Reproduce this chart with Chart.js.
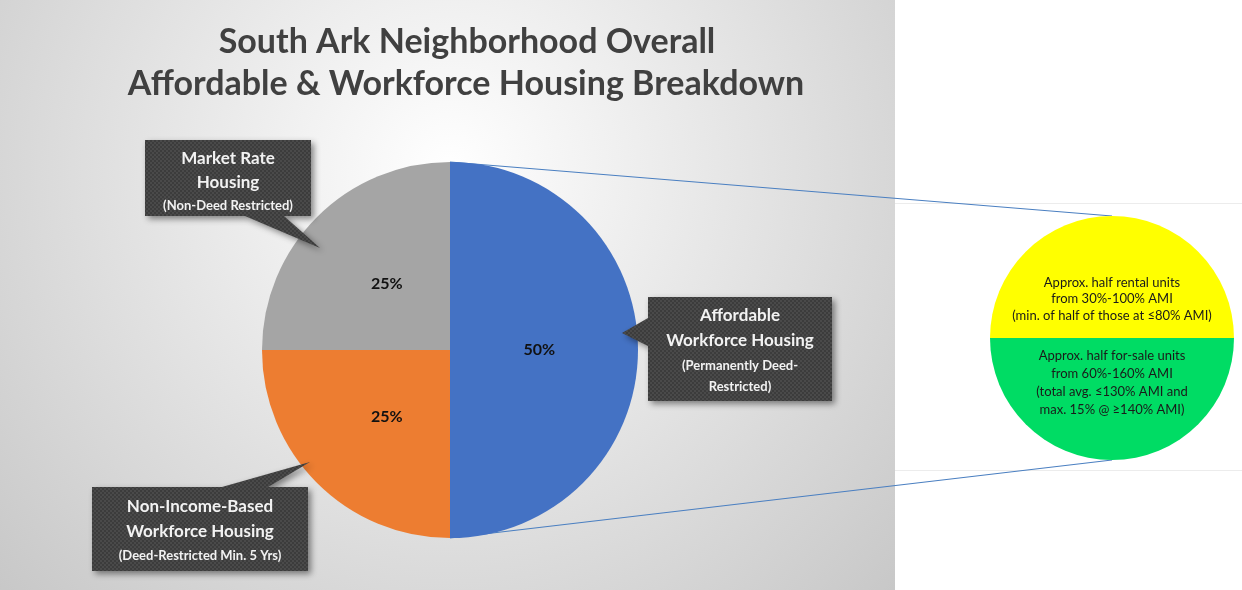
<!DOCTYPE html>
<html>
<head>
<meta charset="utf-8">
<script src="https://cdn.jsdelivr.net/npm/chart.js@4/dist/chart.umd.min.js"></script>
<style>
  html, body { margin: 0; padding: 0; background: #fff; }
  #wrap { position: relative; width: 1242px; height: 590px; overflow: hidden; }
  #mainChart { position: absolute; left: 0; top: 0; }
  #subChart { position: absolute; left: 990px; top: 216px; }
</style>
</head>
<body>
<div id="wrap">
  <canvas id="mainChart" width="1242" height="590"></canvas>
  <canvas id="subChart" width="244" height="244"></canvas>
</div>
<script>
// data
const titleLines = ['South Ark Neighborhood Overall', 'Affordable & Workforce Housing Breakdown'];
const mainLabels = ['Affordable Workforce Housing', 'Non-Income-Based Workforce Housing', 'Market Rate Housing'];
const mainValues = [50, 25, 25];
const subLabels = ['Rental units', 'For-sale units'];
const subValues = [50, 50];
const calloutText = [
    ['Affordable', 'Workforce Housing', '(Permanently Deed-', 'Restricted)'],
    ['Non-Income-Based', 'Workforce Housing', '(Deed-Restricted Min. 5 Yrs)'],
    ['Market Rate', 'Housing', '(Non-Deed Restricted)']
];
const subText = [
    ['Approx. half rental units', 'from 30%-100% AMI', '(min. of half of those at \u226480% AMI)'],
    ['Approx. half for-sale units', 'from 60%-160% AMI', '(total avg. \u2264130% AMI and', 'max. 15% @ \u2265140% AMI)']
];

const FONT = 'Lato, "Open Sans", sans-serif';

// callout boxes: box rect, pointer base points and tip, font sizes per line
const calloutBoxes = [
    { x: 648, y: 297, w: 184, h: 104, ptr: [[648, 318], [648, 346], [622, 333]], lineY: [316, 341, 366, 387], big: 2 },
    { x: 92, y: 487, w: 216, h: 84, ptr: [[222, 487], [268, 487], [310, 462]], lineY: [507, 532, 556], big: 2 },
    { x: 145, y: 140, w: 166, h: 76, ptr: [[245, 216], [284, 216], [320, 248]], lineY: [159, 183, 206], big: 2 }
];

function dotPattern(ctx) {
    const c = document.createElement('canvas');
    c.width = 4; c.height = 4;
    const g = c.getContext('2d');
    g.fillStyle = '#3c3c3c';
    g.fillRect(0, 0, 4, 4);
    g.fillStyle = '#4a4a4a';
    g.fillRect(0, 0, 2, 2);
    g.fillRect(2, 2, 2, 2);
    return ctx.createPattern(c, 'repeat');
}

// second pie first, so the main chart can read its geometry
const subChart = new Chart(document.getElementById('subChart'), {
    type: 'pie',
    data: {
        labels: subLabels,
        datasets: [{
            data: subValues,
            backgroundColor: ['#ffff00', '#00dc64'],
            borderWidth: 0
        }]
    },
    options: {
        responsive: false,
        animation: false,
        rotation: -90,
        layout: { padding: 0 },
        plugins: { legend: { display: false }, tooltip: { enabled: false } }
    },
    plugins: [{
        id: 'subText',
        afterDraw(chart) {
            const ctx = chart.ctx;
            const arc = chart.getDatasetMeta(0).data[0];
            const cx = arc.x, cy = arc.y;
            ctx.save();
            ctx.fillStyle = '#1a1a1a';
            ctx.font = '13px ' + FONT;
            ctx.textAlign = 'center';
            ctx.textBaseline = 'middle';
            const top = [-55, -39, -22];
            subText[0].forEach((t, i) => ctx.fillText(t, cx, cy + top[i], 236));
            const bot = [18, 36, 54, 72];
            subText[1].forEach((t, i) => ctx.fillText(t, cx, cy + bot[i]));
            ctx.restore();
        }
    }]
});

const decor = {
    id: 'decor',
    beforeDraw(chart) {
        const ctx = chart.ctx;
        ctx.save();
        const g = ctx.createRadialGradient(450, 170, 0, 450, 170, 700);
        g.addColorStop(0, '#ffffff');
        g.addColorStop(1, '#c0c0c0');
        ctx.fillStyle = g;
        ctx.fillRect(0, 0, 895, 590);
        // faint border of the second plot
        ctx.strokeStyle = '#ececec';
        ctx.lineWidth = 1;
        ctx.beginPath();
        ctx.moveTo(895, 203.5); ctx.lineTo(1242, 203.5);
        ctx.moveTo(895, 470.5); ctx.lineTo(1242, 470.5);
        ctx.stroke();

        // title
        ctx.fillStyle = '#404040';
        ctx.textAlign = 'center';
        ctx.textBaseline = 'middle';
        ctx.font = 'bold 34px ' + FONT;
        ctx.fillText(titleLines[0], 467, 42, 500);
        ctx.fillText(titleLines[1], 466, 84, 680);

        // connector lines
        const arc = chart.getDatasetMeta(0).data[0];
        const sub = subChart.getDatasetMeta(0).data[0];
        const ox = 990, oy = 216;
        ctx.strokeStyle = '#4a7fc1';
        ctx.lineWidth = 1.2;
        ctx.beginPath();
        ctx.moveTo(arc.x, arc.y - arc.outerRadius);
        ctx.lineTo(ox + sub.x, oy + sub.y - sub.outerRadius);
        ctx.moveTo(arc.x, arc.y + arc.outerRadius);
        ctx.lineTo(ox + sub.x, oy + sub.y + sub.outerRadius);
        ctx.stroke();
        ctx.restore();
    },
    afterDraw(chart) {
        const ctx = chart.ctx;
        const meta = chart.getDatasetMeta(0);
        ctx.save();
        // percentage labels
        ctx.fillStyle = '#111';
        ctx.font = 'bold 16px ' + FONT;
        ctx.textAlign = 'center';
        ctx.textBaseline = 'middle';
        const total = mainValues.reduce((a, b) => a + b, 0);
        meta.data.forEach((a, i) => {
            const mid = (a.startAngle + a.endAngle) / 2;
            const r = a.outerRadius * 0.5;
            ctx.fillText(Math.round(mainValues[i] / total * 100) + '%', a.x + Math.cos(mid) * r * 0.95, a.y + Math.sin(mid) * r);
        });

        // callouts
        const pat = dotPattern(ctx);
        calloutBoxes.forEach((b, i) => {
            ctx.save();
            ctx.shadowColor = 'rgba(0,0,0,0.45)';
            ctx.shadowBlur = 6;
            ctx.shadowOffsetX = 3;
            ctx.shadowOffsetY = 3;
            ctx.fillStyle = pat;
            ctx.beginPath();
            ctx.rect(b.x, b.y, b.w, b.h);
            ctx.fill();
            ctx.beginPath();
            ctx.moveTo(b.ptr[0][0], b.ptr[0][1]);
            ctx.lineTo(b.ptr[2][0], b.ptr[2][1]);
            ctx.lineTo(b.ptr[1][0], b.ptr[1][1]);
            ctx.closePath();
            ctx.fill();
            ctx.shadowColor = 'transparent';
            ctx.fillRect(b.x, b.y, b.w, b.h);
            ctx.restore();

            ctx.fillStyle = '#f2f2f2';
            calloutText[i].forEach((t, j) => {
                ctx.font = j < b.big ? 'bold 17px ' + FONT : 'bold 13px ' + FONT;
                ctx.fillText(t, b.x + b.w / 2, b.lineY[j], b.w - 8);
            });
        });
        ctx.restore();
    }
};

new Chart(document.getElementById('mainChart'), {
    type: 'pie',
    data: {
        labels: mainLabels,
        datasets: [{
            data: mainValues,
            backgroundColor: ['#4472c4', '#ed7d31', '#a5a5a5'],
            borderWidth: 0
        }]
    },
    options: {
        responsive: false,
        animation: false,
        layout: { padding: { left: 262, right: 604, top: 162, bottom: 52 } },
        plugins: { legend: { display: false }, tooltip: { enabled: false } }
    },
    plugins: [decor]
});
</script>
</body>
</html>
